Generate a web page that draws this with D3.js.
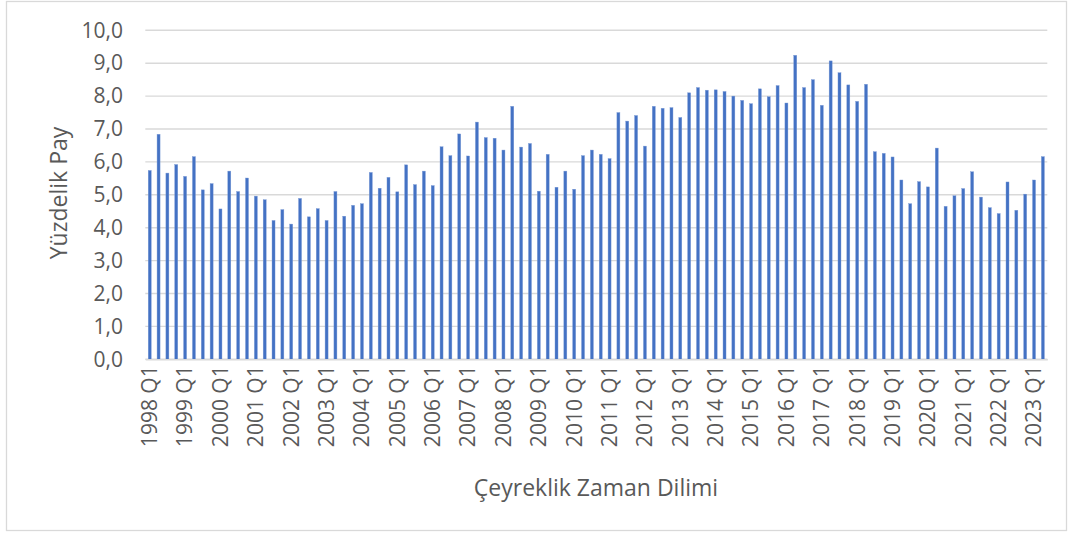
<!DOCTYPE html>
<html>
<head>
<meta charset="utf-8">
<script src="https://cdn.jsdelivr.net/npm/d3@7"></script>
<style>
	body { margin: 0; background: #fff; }
	svg text { font-family: "Open Sans", sans-serif; fill: #595959; }
</style>
</head>
<body>
<div id="chart"></div>
<script>
// Quarterly share (%) - 1998 Q1 .. 2023 Q2
const years = [1998, 1999, 2000, 2001, 2002, 2003, 2004, 2005, 2006, 2007, 2008, 2009, 2010,
	2011, 2012, 2013, 2014, 2015, 2016, 2017, 2018, 2019, 2020, 2021, 2022, 2023];
const quarters = ['Q1', 'Q2', 'Q3', 'Q4'];

const shares = [
	5.74, 6.84, 5.66, 5.92,   // 1998
	5.56, 6.16, 5.15, 5.34,   // 1999
	4.57, 5.72, 5.10, 5.51,   // 2000
	4.96, 4.85, 4.22, 4.55,   // 2001
	4.11, 4.89, 4.33, 4.58,   // 2002
	4.22, 5.10, 4.35, 4.68,   // 2003
	4.73, 5.68, 5.20, 5.53,   // 2004
	5.09, 5.91, 5.31, 5.72,   // 2005
	5.28, 6.46, 6.19, 6.85,   // 2006
	6.18, 7.21, 6.74, 6.72,   // 2007
	6.36, 7.69, 6.45, 6.56,   // 2008
	5.11, 6.23, 5.23, 5.72,   // 2009
	5.17, 6.19, 6.36, 6.23,   // 2010
	6.10, 7.50, 7.24, 7.41,   // 2011
	6.48, 7.69, 7.63, 7.65,   // 2012
	7.35, 8.10, 8.26, 8.18,   // 2013
	8.19, 8.14, 8.00, 7.87,   // 2014
	7.77, 8.22, 7.98, 8.32,   // 2015
	7.79, 9.24, 8.26, 8.50,   // 2016
	7.72, 9.07, 8.71, 8.34,   // 2017
	7.84, 8.36, 6.31, 6.26,   // 2018
	6.15, 5.45, 4.73, 5.40,   // 2019
	5.24, 6.42, 4.65, 4.97,   // 2020
	5.19, 5.70, 4.93, 4.61,   // 2021
	4.43, 5.39, 4.53, 5.02,   // 2022
	5.45, 6.16                // 2023
];

const yTicks = [0, 1, 2, 3, 4, 5, 6, 7, 8, 9, 10];
const yTitle = 'Yüzdelik Pay';
const xTitle = 'Çeyreklik Zaman Dilimi';

// category labels built from years x quarters, trimmed to data length
const categories = years.flatMap(y => quarters.map(q => `${y} ${q}`)).slice(0, shares.length);
const data = categories.map((c, i) => ({ label: c, value: shares[i] }));

const width = 1072;
const height = 534;

const svg = d3.select('#chart')
	.append('svg')
	.attr('width', width)
	.attr('height', height);

// outer chart border
svg.append('rect')
	.attr('x', 6.5)
	.attr('y', 1.5)
	.attr('width', 1060)
	.attr('height', 529)
	.attr('fill', 'none')
	.attr('stroke', '#d9d9d9')
	.attr('stroke-width', 1.3);

const x = d3.scaleBand()
	.domain(categories)
	.range([145.3, 1047.3])
	.paddingInner(0.66)
	.paddingOuter(0.33);

const y = d3.scaleLinear()
	.domain([0, 10])
	.range([359.3, 30.3]);

// gridlines
svg.append('g')
	.selectAll('line')
	.data(yTicks)
	.enter()
	.append('line')
	.attr('x1', 145.3)
	.attr('x2', 1047.3)
	.attr('y1', d => y(d))
	.attr('y2', d => y(d))
	.attr('stroke', '#d9d9d9')
	.attr('stroke-width', 1.4);

// y axis labels
const yAxis = svg.append('g')
	.attr('transform', 'translate(145,0)')
	.call(d3.axisLeft(y)
		.tickValues(yTicks)
		.tickSize(0)
		.tickPadding(22)
		.tickFormat(d => d3.format('.1f')(d).replace('.', ',')));
yAxis.select('.domain').remove();
yAxis.selectAll('text')
	.attr('fill', '#595959')
	.style('font-size', '21px');

// bars
svg.append('g')
	.selectAll('rect')
	.data(data)
	.enter()
	.append('rect')
	.attr('x', d => x(d.label))
	.attr('y', d => y(d.value))
	.attr('width', x.bandwidth())
	.attr('height', d => y(0) - y(d.value))
	.attr('fill', '#4472c4')
	.attr('stroke', '#7a9ad6')
	.attr('stroke-width', 0.4);

// x axis (only Q1 labelled)
const xAxis = svg.append('g')
	.attr('transform', `translate(0,${y(0)})`)
	.call(d3.axisBottom(x)
		.tickValues(categories.filter(c => c.endsWith('Q1')))
		.tickSize(0)
		.tickPadding(0));
xAxis.select('.domain')
	.attr('stroke', '#d9d9d9')
	.attr('stroke-width', 1.4);
xAxis.selectAll('text')
	.attr('fill', '#595959')
	.style('font-size', '21px')
	.attr('transform', 'rotate(-90)')
	.attr('text-anchor', 'end')
	.attr('dy', '0.35em')
	.attr('x', -6)
	.attr('y', 0);

// axis titles
svg.append('text')
	.attr('transform', 'translate(67,193) rotate(-90)')
	.attr('text-anchor', 'middle')
	.style('font-size', '23px')
	.text(yTitle);

svg.append('text')
	.attr('x', 596)
	.attr('y', 496)
	.attr('text-anchor', 'middle')
	.style('font-size', '23px')
	.text(xTitle);
</script>
</body>
</html>
